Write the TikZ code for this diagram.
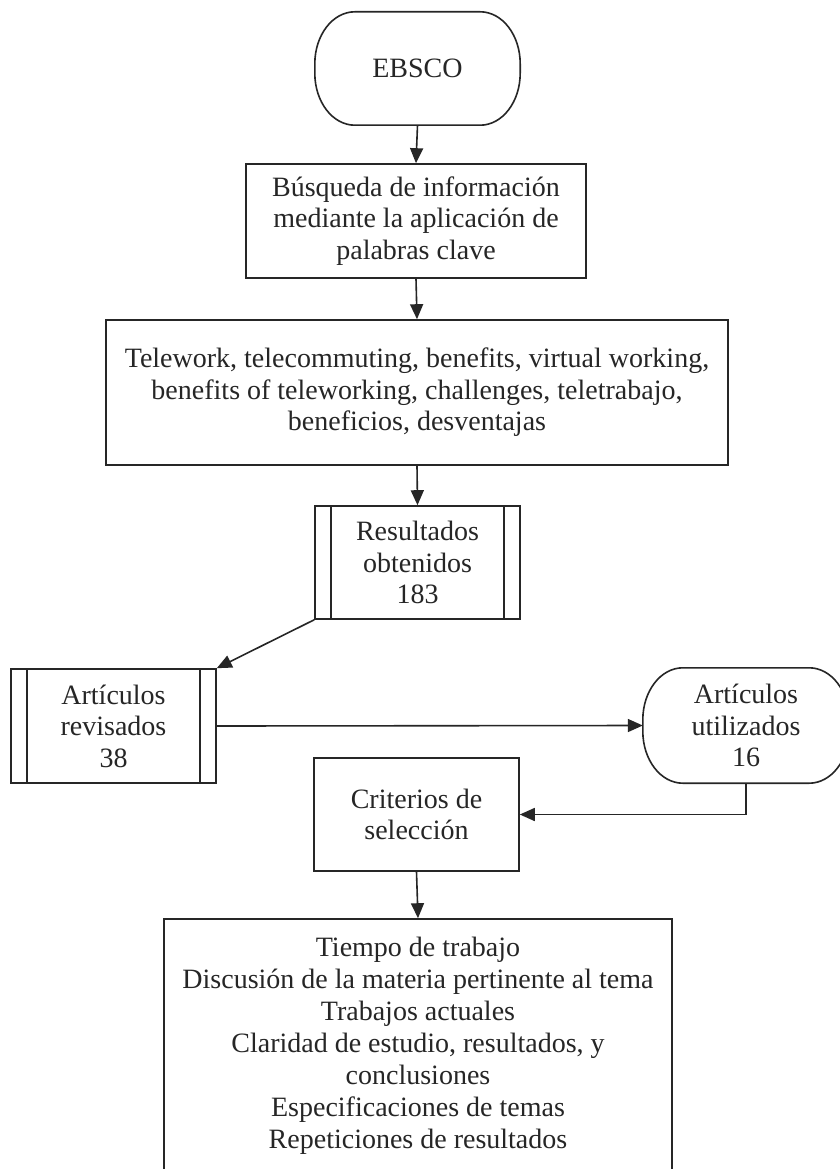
\documentclass[tikz,border=0pt]{standalone}
\usepackage{fontspec}
\setmainfont{Liberation Serif}
\usetikzlibrary{arrows.meta}
\definecolor{ink}{HTML}{262626}
\tikzset{
  line/.style={draw=ink, line width=1.6pt},
  txt/.style={font=\fontsize{28}{31.5}\selectfont, align=center, inner sep=0pt, text=ink},
  boxed/.style={txt, line, rectangle, minimum width=#1},
  arr/.style={line, -{Triangle[length=15pt,width=13pt]}},
}
\newcommand\termoutline[3]{%
  \draw[line] ([xshift=#2]#1.north west) -- ([xshift=-#2]#1.north east)
    arc[start angle=90,end angle=0,x radius=#2,y radius=#3]
    -- ([yshift=#3]#1.south east)
    arc[start angle=0,end angle=-90,x radius=#2,y radius=#3]
    -- ([xshift=#2]#1.south west)
    arc[start angle=270,end angle=180,x radius=#2,y radius=#3]
    -- ([yshift=-#3]#1.north west)
    arc[start angle=180,end angle=90,x radius=#2,y radius=#3] -- cycle;}
\newcommand\procbars[2]{%
  \draw[line] ([xshift=#2]#1.north west) -- ([xshift=#2]#1.south west);
  \draw[line] ([xshift=-#2]#1.north east) -- ([xshift=-#2]#1.south east);}
\begin{document}
\begin{tikzpicture}[x=1pt,y=-1pt]
\useasboundingbox[fill=white] (0,0) rectangle (839,1169);

\node[txt, minimum width=205pt, minimum height=113pt] (ebsco) at (417.5,68.5) {EBSCO};
\termoutline{ebsco}{40pt}{52pt}

\node[boxed=340pt, minimum height=114pt] (busq) at (416,221)
  {Búsqueda de información\\mediante la aplicación de\\palabras clave};

\node[boxed=622pt, minimum height=145pt] (tele) at (417,392.5)
  {Telework, telecommuting, benefits, virtual working,\\benefits of teleworking, challenges, teletrabajo,\\beneficios, desventajas};

\node[boxed=205pt, minimum height=113pt] (res) at (417.5,562.5)
  {Resultados\\obtenidos\\183};
\procbars{res}{17pt}

\node[boxed=205pt, minimum height=114pt] (rev) at (113.5,726)
  {Artículos\\revisados\\38};
\procbars{rev}{17pt}

\node[txt, minimum width=206pt, minimum height=115pt] (util) at (746,725.5)
  {Artículos\\utilizados\\16};
\termoutline{util}{40pt}{52pt}

\node[boxed=205pt, minimum height=113pt] (crit) at (416.5,814.5)
  {Criterios de\\selección};

\node[line, rectangle, minimum width=508pt, minimum height=254pt, inner sep=0pt] (crbox) at (418,1046) {};
\node[txt, font=\fontsize{28}{32}\selectfont] (crtext) at (crbox.center)
  {Tiempo de trabajo\\Discusión de la materia pertinente al tema\\Trabajos actuales\\Claridad de estudio, resultados, y\\conclusiones\\Especificaciones de temas\\Repeticiones de resultados};

\draw[arr] (ebsco.south) -- (busq.north);
\draw[arr] (busq.south) -- (tele.north);
\draw[arr] (tele.south) -- (res.north);
\draw[arr] (res.south west) -- (rev.north east);
\draw[arr] (rev.east) -- (util.west);
\draw[arr] (util.south) |- (crit.east);
\draw[arr] (crit.south) -- (crbox.north);
\end{tikzpicture}
\end{document}
